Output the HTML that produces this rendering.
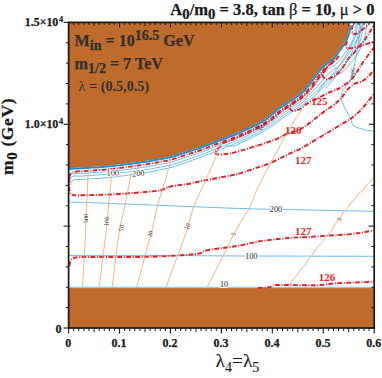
<!DOCTYPE html>
<html><head><meta charset="utf-8"><title>plot</title>
<style>
html,body{margin:0;padding:0;background:#fff;}
body{width:382px;height:378px;overflow:hidden;font-family:"Liberation Serif",serif;}
svg{display:block}
</style></head><body>
<svg width="382" height="378" viewBox="0 0 382 378">
<rect width="382" height="378" fill="#fff"/>
<path d="M68.7 168.3 L72.0 167.9 L74.6 167.8 L78.0 167.6 L82.0 167.4 L86.5 167.1 L89.3 166.9 L92.3 166.7 L95.5 166.5 L98.9 166.3 L102.4 166.0 L106.1 165.7 L110.0 165.3 L112.9 165.0 L116.0 164.6 L119.3 164.3 L122.7 163.9 L126.2 163.4 L129.6 163.0 L132.9 162.6 L136.1 162.2 L139.0 161.8 L141.7 161.4 L145.6 160.8 L149.1 160.3 L152.2 159.7 L155.0 159.2 L157.6 158.7 L160.0 158.3 L163.7 157.7 L166.5 157.2 L170.0 156.4 L172.8 155.6 L175.9 154.7 L179.3 153.6 L182.6 152.5 L185.9 151.5 L189.1 150.5 L192.2 149.5 L195.4 148.5 L198.5 147.5 L201.7 146.4 L204.9 145.2 L208.2 143.9 L211.5 142.6 L214.6 141.4 L217.6 140.2 L220.9 139.0 L223.8 137.9 L226.7 136.9 L230.0 135.6 L233.0 134.4 L236.1 133.1 L239.4 131.8 L242.7 130.4 L245.9 128.9 L249.2 127.4 L252.6 125.7 L255.9 124.1 L259.0 122.5 L261.7 121.0 L264.9 119.0 L267.3 117.3 L269.7 115.4 L272.4 113.2 L275.0 110.8 L277.6 108.6 L281.3 106.0 L285.0 103.6 L287.6 101.9 L290.2 100.2 L292.9 98.4 L295.6 96.6 L298.2 94.8 L300.9 92.6 L303.5 90.1 L306.2 87.2 L308.8 84.1 L310.8 81.5 L312.7 78.6 L314.7 75.7 L316.7 73.0 L319.4 69.8 L322.0 66.9 L324.7 64.3 L327.5 62.2 L330.3 60.4 L332.6 58.7 L334.7 56.3 L336.4 53.8 L338.9 50.5 L341.4 47.0 L343.6 43.6 L345.6 40.0 L347.3 36.2 L348.6 32.0 L349.1 28.6 L349.5 24.9 L349.7 22.4 L68.6 22.4 L68.6 168.3 Z" fill="#bf6b2c"/>
<rect x="68.6" y="288.1" width="305.6" height="39.9" fill="#bf6b2c"/>
<path d="M68.7 176.0 C69.0 175.8 69.7 175.0 70.5 174.6 C71.3 174.2 72.2 174.0 73.5 173.8 C74.8 173.6 76.8 173.7 78.3 173.6 C79.8 173.5 80.9 173.5 82.3 173.4 C83.7 173.3 85.6 173.2 86.9 173.1 C88.1 173.0 88.7 173.0 89.7 172.9 C90.7 172.8 91.7 172.8 92.7 172.7 C93.8 172.6 94.8 172.6 95.9 172.5 C97.0 172.4 98.2 172.3 99.3 172.3 C100.5 172.2 101.7 172.1 102.9 172.0 C104.1 171.9 105.4 171.8 106.7 171.7 C108.0 171.5 109.5 171.4 110.6 171.3 C111.7 171.2 112.5 171.1 113.5 171.0 C114.6 170.9 115.6 170.8 116.7 170.6 C117.8 170.5 118.9 170.4 120.0 170.3 C121.2 170.2 122.3 170.0 123.5 169.9 C124.6 169.8 125.8 169.6 126.9 169.5 C128.1 169.4 129.2 169.2 130.4 169.1 C131.5 168.9 132.6 168.8 133.7 168.7 C134.8 168.5 135.9 168.4 136.9 168.3 C137.9 168.1 138.9 168.0 139.9 167.9 C140.8 167.8 141.5 167.7 142.6 167.5 C143.7 167.4 145.3 167.1 146.6 166.9 C147.8 166.7 149.0 166.5 150.1 166.3 C151.2 166.1 152.2 165.9 153.2 165.7 C154.2 165.5 155.2 165.3 156.1 165.1 C157.0 164.9 157.8 164.8 158.6 164.6 C159.4 164.5 160.0 164.3 161.0 164.2 C162.0 164.0 163.7 163.7 164.8 163.5 C165.9 163.3 166.6 163.2 167.7 162.9 C168.8 162.7 170.3 162.3 171.4 162.0 C172.5 161.7 173.3 161.5 174.4 161.1 C175.4 160.8 176.5 160.5 177.6 160.1 C178.7 159.7 179.8 159.4 180.9 159.0 C182.1 158.6 183.2 158.2 184.3 157.8 C185.4 157.5 186.5 157.1 187.6 156.7 C188.6 156.4 189.6 156.0 190.7 155.7 C191.7 155.3 192.8 155.0 193.8 154.6 C194.9 154.3 196.0 153.9 197.0 153.6 C198.1 153.2 199.2 152.8 200.2 152.5 C201.3 152.1 202.4 151.7 203.5 151.3 C204.5 150.9 205.7 150.5 206.8 150.1 C207.9 149.7 209.0 149.2 210.1 148.8 C211.2 148.3 212.3 147.9 213.4 147.5 C214.5 147.0 215.5 146.6 216.5 146.2 C217.5 145.8 218.4 145.4 219.4 145.1 C220.5 144.7 221.6 144.2 222.7 143.9 C223.7 143.5 224.6 143.2 225.6 142.8 C226.6 142.5 227.5 142.1 228.6 141.7 C229.6 141.3 230.8 140.9 231.9 140.4 C232.9 140.0 233.9 139.6 234.9 139.2 C235.9 138.7 237.0 138.3 238.1 137.8 C239.1 137.4 240.2 136.9 241.3 136.4 C242.5 135.9 243.6 135.4 244.7 134.9 C245.8 134.4 246.8 133.9 247.9 133.4 C249.0 132.8 250.1 132.3 251.3 131.7 C252.4 131.2 253.6 130.6 254.7 130.0 C255.8 129.4 257.0 128.8 258.1 128.3 C259.2 127.7 260.3 127.1 261.3 126.5 C262.3 126.0 263.0 125.6 264.1 125.0 C265.1 124.3 266.5 123.5 267.5 122.9 C268.5 122.2 269.2 121.7 270.1 121.0 C271.0 120.4 271.8 119.7 272.7 119.0 C273.6 118.3 274.5 117.5 275.4 116.8 C276.3 116.0 277.2 115.2 278.0 114.5 C278.9 113.8 279.5 113.2 280.5 112.4 C281.5 111.7 282.9 110.7 284.1 109.9 C285.3 109.1 286.6 108.3 287.7 107.6 C288.7 106.9 289.4 106.5 290.2 105.9 C291.1 105.4 292.0 104.8 292.9 104.2 C293.8 103.6 294.7 103.0 295.6 102.4 C296.5 101.8 297.4 101.2 298.3 100.5 C299.3 99.9 300.2 99.2 301.2 98.5 C302.2 97.8 303.1 97.1 304.1 96.2 C305.1 95.4 306.1 94.5 307.1 93.6 C308.1 92.7 309.1 91.7 310.0 90.7 C311.0 89.6 312.1 88.4 313.0 87.4 C313.8 86.4 314.4 85.6 315.2 84.7 C315.9 83.7 316.6 82.7 317.3 81.8 C318.0 80.8 318.6 79.9 319.3 79.0 C320.0 78.2 320.5 77.5 321.2 76.6 C322.0 75.7 323.0 74.7 323.8 73.7 C324.7 72.8 325.5 72.0 326.3 71.2 C327.1 70.4 327.9 69.6 328.7 68.9 C329.5 68.3 330.4 67.7 331.3 67.1 C332.2 66.5 333.2 65.9 334.2 65.3 C335.1 64.7 336.0 64.1 336.9 63.3 C337.8 62.5 338.7 61.4 339.5 60.5 C340.2 59.6 340.7 58.7 341.5 57.7 C342.3 56.6 343.3 55.4 344.2 54.2 C345.1 53.1 346.0 51.8 346.8 50.6 C347.7 49.4 348.5 48.2 349.2 46.9 C350.0 45.6 350.8 44.2 351.5 42.8 C352.2 41.4 352.8 39.9 353.4 38.4 C354.0 36.9 354.5 35.1 354.9 33.6 C355.3 32.2 355.4 31.0 355.6 29.7 C355.7 28.4 355.8 26.8 355.9 25.7 C356.0 24.6 356.1 23.4 356.2 23.0" fill="none" stroke="#4db4e6" stroke-width="0.85"/>
<path d="M68.7 179.2 C69.0 179.0 69.8 178.4 70.3 178.0 C70.8 177.6 71.3 177.2 72.0 176.8 C72.7 176.5 73.4 176.0 74.5 175.9 C75.6 175.8 77.1 176.2 78.5 176.2 C79.8 176.2 81.0 176.0 82.5 176.0 C83.9 175.9 85.8 175.8 87.0 175.7 C88.3 175.6 88.9 175.6 89.9 175.5 C90.8 175.4 91.9 175.4 92.9 175.3 C93.9 175.2 95.0 175.2 96.1 175.1 C97.2 175.0 98.4 174.9 99.5 174.8 C100.7 174.8 101.9 174.7 103.1 174.6 C104.4 174.5 105.6 174.4 106.9 174.2 C108.2 174.1 109.7 174.0 110.9 173.9 C112.0 173.7 112.8 173.7 113.8 173.6 C114.8 173.5 115.9 173.4 117.0 173.2 C118.1 173.1 119.2 173.0 120.3 172.9 C121.5 172.8 122.6 172.6 123.8 172.5 C124.9 172.4 126.1 172.3 127.3 172.1 C128.4 172.0 129.6 171.9 130.7 171.7 C131.8 171.6 133.0 171.5 134.0 171.3 C135.1 171.2 136.2 171.1 137.2 170.9 C138.3 170.8 139.3 170.7 140.3 170.6 C141.2 170.4 141.9 170.4 143.0 170.2 C144.1 170.0 145.7 169.8 147.0 169.6 C148.2 169.4 149.4 169.2 150.5 169.0 C151.7 168.8 152.7 168.6 153.7 168.4 C154.7 168.2 155.7 168.0 156.6 167.8 C157.5 167.7 158.3 167.5 159.1 167.3 C159.9 167.2 160.5 167.1 161.5 166.9 C162.5 166.7 164.2 166.4 165.3 166.2 C166.5 166.0 167.2 165.9 168.3 165.7 C169.4 165.4 170.9 165.1 172.1 164.7 C173.2 164.4 174.1 164.1 175.1 163.8 C176.2 163.5 177.3 163.1 178.4 162.7 C179.5 162.3 180.6 161.9 181.8 161.5 C182.9 161.1 184.0 160.7 185.1 160.4 C186.2 160.0 187.3 159.6 188.3 159.2 C189.4 158.8 190.4 158.5 191.5 158.1 C192.5 157.8 193.6 157.4 194.6 157.0 C195.7 156.7 196.7 156.3 197.8 155.9 C198.9 155.5 199.9 155.2 201.0 154.8 C202.1 154.4 203.2 154.0 204.3 153.5 C205.4 153.1 206.5 152.7 207.6 152.3 C208.7 151.8 209.8 151.4 210.9 150.9 C212.1 150.5 213.2 150.0 214.2 149.6 C215.3 149.1 216.3 148.7 217.3 148.3 C218.3 147.8 219.2 147.5 220.2 147.1 C221.2 146.7 222.4 146.2 223.4 145.9 C224.4 145.5 225.4 145.1 226.3 144.8 C227.3 144.4 228.3 144.0 229.3 143.6 C230.3 143.2 231.6 142.7 232.6 142.3 C233.7 141.9 234.6 141.5 235.6 141.0 C236.7 140.6 237.7 140.1 238.8 139.6 C239.9 139.2 241.0 138.7 242.1 138.2 C243.2 137.7 244.3 137.2 245.4 136.6 C246.6 136.1 247.6 135.6 248.7 135.1 C249.8 134.5 250.9 134.0 252.1 133.4 C253.2 132.9 254.4 132.3 255.5 131.7 C256.7 131.1 257.8 130.5 258.9 129.9 C260.0 129.3 261.1 128.7 262.1 128.1 C263.1 127.6 263.9 127.1 265.0 126.5 C266.0 125.9 267.5 125.1 268.5 124.4 C269.6 123.7 270.3 123.2 271.2 122.5 C272.1 121.9 273.0 121.2 273.9 120.5 C274.8 119.8 275.8 119.0 276.7 118.2 C277.5 117.5 278.4 116.7 279.2 116.0 C280.1 115.3 280.7 114.8 281.7 114.0 C282.7 113.3 284.0 112.4 285.2 111.6 C286.4 110.8 287.8 109.9 288.8 109.3 C289.8 108.6 290.4 108.2 291.3 107.6 C292.2 107.0 293.1 106.4 294.0 105.9 C294.9 105.3 295.8 104.7 296.7 104.0 C297.6 103.4 298.5 102.8 299.5 102.2 C300.5 101.5 301.4 100.8 302.4 100.1 C303.4 99.4 304.4 98.6 305.5 97.8 C306.5 97.0 307.6 96.1 308.7 95.2 C309.8 94.3 310.8 93.3 311.9 92.3 C312.9 91.3 314.1 90.1 315.0 89.1 C316.0 88.1 316.6 87.3 317.4 86.4 C318.2 85.4 319.0 84.4 319.7 83.5 C320.4 82.6 321.1 81.7 321.8 80.9 C322.5 80.1 323.0 79.4 323.8 78.6 C324.6 77.8 325.6 76.9 326.4 76.0 C327.3 75.2 328.0 74.4 328.8 73.6 C329.6 72.9 330.2 72.2 331.0 71.6 C331.8 71.0 332.5 70.4 333.4 69.8 C334.3 69.2 335.4 68.7 336.4 68.0 C337.3 67.4 338.4 66.7 339.3 65.8 C340.3 65.0 341.3 63.8 342.1 62.8 C343.0 61.8 343.5 60.8 344.3 59.8 C345.1 58.7 346.1 57.5 347.0 56.3 C347.9 55.1 348.9 53.8 349.7 52.5 C350.6 51.3 351.4 50.0 352.3 48.6 C353.1 47.3 353.9 45.8 354.6 44.3 C355.4 42.8 356.1 41.3 356.7 39.6 C357.3 38.0 357.9 36.1 358.3 34.5 C358.7 32.9 358.8 31.7 359.0 30.3 C359.2 28.9 359.3 27.3 359.4 26.1 C359.5 24.9 359.6 23.8 359.7 23.3" fill="none" stroke="#4db4e6" stroke-width="0.85"/>
<path d="M68.7 185.4 C69.0 185.1 69.7 184.2 70.2 183.5 C70.8 182.8 71.3 181.7 72.0 181.0 C72.7 180.3 73.4 179.8 74.5 179.6 C75.6 179.4 77.3 179.6 78.6 179.6 C80.0 179.5 81.2 179.4 82.7 179.4 C84.1 179.3 86.0 179.2 87.2 179.1 C88.5 179.0 89.1 179.0 90.1 178.9 C91.1 178.8 92.1 178.8 93.1 178.7 C94.2 178.6 95.2 178.6 96.3 178.5 C97.5 178.4 98.6 178.3 99.8 178.2 C101.0 178.1 102.2 178.1 103.4 178.0 C104.7 177.9 105.9 177.7 107.2 177.6 C108.5 177.5 110.0 177.4 111.2 177.2 C112.3 177.1 113.1 177.0 114.2 176.9 C115.2 176.8 116.3 176.7 117.4 176.5 C118.5 176.4 119.6 176.3 120.7 176.1 C121.9 176.0 123.0 175.8 124.2 175.7 C125.3 175.5 126.5 175.4 127.6 175.2 C128.8 175.1 129.9 174.9 131.1 174.8 C132.2 174.6 133.3 174.5 134.4 174.3 C135.5 174.2 136.6 174.0 137.6 173.9 C138.7 173.7 139.7 173.6 140.7 173.5 C141.6 173.3 142.3 173.2 143.4 173.1 C144.5 172.9 146.1 172.6 147.4 172.4 C148.7 172.1 149.8 171.9 151.0 171.7 C152.1 171.5 153.2 171.3 154.2 171.0 C155.2 170.8 156.1 170.6 157.0 170.4 C157.9 170.3 158.7 170.1 159.6 169.9 C160.4 169.7 160.9 169.6 161.9 169.4 C163.0 169.2 164.7 168.9 165.8 168.7 C166.9 168.4 167.7 168.3 168.8 168.1 C170.0 167.8 171.5 167.4 172.6 167.1 C173.8 166.7 174.7 166.4 175.8 166.1 C176.8 165.7 178.0 165.4 179.1 165.0 C180.2 164.6 181.3 164.2 182.5 163.8 C183.6 163.4 184.7 163.0 185.8 162.6 C186.9 162.2 188.0 161.8 189.0 161.4 C190.1 161.0 191.1 160.7 192.1 160.3 C193.2 159.9 194.2 159.6 195.3 159.2 C196.3 158.8 197.4 158.4 198.5 158.1 C199.5 157.7 200.6 157.3 201.7 156.9 C202.8 156.5 203.9 156.0 205.0 155.6 C206.1 155.2 207.2 154.8 208.4 154.3 C209.5 153.9 210.6 153.4 211.7 153.0 C212.9 152.5 214.0 152.0 215.0 151.6 C216.1 151.2 217.1 150.7 218.1 150.3 C219.1 149.9 220.0 149.5 221.0 149.1 C222.0 148.7 223.2 148.3 224.2 147.9 C225.2 147.5 226.1 147.2 227.1 146.8 C228.1 146.5 229.0 146.1 230.1 145.7 C231.1 145.3 232.4 144.8 233.4 144.4 C234.5 143.9 235.4 143.5 236.4 143.0 C237.5 142.6 238.5 142.1 239.6 141.6 C240.7 141.1 241.8 140.6 242.9 140.1 C244.0 139.6 245.2 139.0 246.3 138.5 C247.4 138.0 248.5 137.5 249.6 136.9 C250.7 136.4 251.8 135.8 252.9 135.2 C254.0 134.6 255.2 134.0 256.4 133.4 C257.5 132.8 258.7 132.2 259.8 131.6 C260.9 131.0 262.0 130.3 263.0 129.8 C264.0 129.2 264.8 128.7 265.9 128.1 C267.0 127.4 268.5 126.6 269.5 125.9 C270.6 125.3 271.4 124.7 272.3 124.0 C273.2 123.4 274.1 122.7 275.1 122.0 C276.0 121.3 277.0 120.5 277.9 119.7 C278.8 119.0 279.6 118.2 280.5 117.5 C281.3 116.8 281.9 116.3 282.9 115.6 C283.9 114.9 285.2 114.0 286.4 113.2 C287.5 112.4 288.9 111.6 289.9 110.9 C290.9 110.3 291.5 109.8 292.4 109.3 C293.3 108.7 294.2 108.1 295.1 107.5 C296.0 106.9 296.9 106.3 297.8 105.7 C298.7 105.1 299.7 104.5 300.7 103.8 C301.6 103.1 302.6 102.4 303.7 101.7 C304.7 100.9 305.7 100.1 306.8 99.3 C307.9 98.5 309.1 97.6 310.3 96.7 C311.4 95.8 312.5 94.8 313.6 93.8 C314.7 92.8 316.0 91.6 316.9 90.6 C317.9 89.6 318.6 88.8 319.5 87.9 C320.3 86.9 321.1 85.9 321.8 85.0 C322.6 84.1 323.3 83.3 324.0 82.5 C324.7 81.7 325.2 81.2 326.0 80.4 C326.8 79.6 327.8 78.7 328.7 78.0 C329.5 77.2 330.2 76.5 331.0 75.8 C331.7 75.1 332.3 74.5 333.0 73.9 C333.8 73.4 334.5 72.9 335.4 72.4 C336.3 71.8 337.4 71.2 338.4 70.6 C339.4 69.9 340.6 69.2 341.6 68.3 C342.6 67.3 343.7 66.1 344.7 65.0 C345.6 63.9 346.2 62.9 347.0 61.8 C347.9 60.7 348.9 59.5 349.9 58.3 C350.8 57.0 351.7 55.8 352.6 54.5 C353.5 53.2 354.4 51.8 355.3 50.4 C356.1 49.0 357.0 47.4 357.8 45.8 C358.6 44.2 359.3 42.6 360.0 40.8 C360.6 39.1 361.3 37.0 361.7 35.4 C362.1 33.7 362.2 32.4 362.4 30.9 C362.7 29.4 362.8 27.7 362.9 26.5 C363.0 25.3 363.1 24.1 363.1 23.6" fill="none" stroke="#4db4e6" stroke-width="0.85"/>
<path d="M226.0 146.0 C227.4 146.0 232.3 146.2 234.2 146.0 C236.1 145.8 236.1 145.1 237.1 144.7 C238.2 144.2 239.2 143.7 240.3 143.2 C241.4 142.7 242.5 142.2 243.6 141.7 C244.7 141.2 245.9 140.6 247.0 140.1 C248.1 139.6 249.2 139.0 250.3 138.5 C251.4 137.9 252.5 137.3 253.6 136.7 C254.8 136.1 256.0 135.5 257.1 134.9 C258.2 134.3 259.4 133.6 260.5 133.0 C261.6 132.4 262.7 131.8 263.8 131.2 C264.8 130.6 265.6 130.1 266.7 129.4 C267.8 128.8 269.3 128.0 270.4 127.3 C271.5 126.6 272.3 126.0 273.3 125.4 C274.2 124.7 275.2 124.0 276.1 123.3 C277.1 122.6 278.1 121.8 279.0 121.0 C279.9 120.3 280.8 119.6 281.6 118.9 C282.4 118.2 283.0 117.7 284.0 117.0 C285.0 116.3 286.3 115.4 287.4 114.7 C288.6 113.9 289.9 113.1 290.9 112.5 C291.9 111.8 292.6 111.4 293.4 110.8 C294.3 110.3 295.2 109.7 296.2 109.1 C297.1 108.5 297.9 107.9 298.9 107.3 C299.8 106.7 300.8 106.1 301.8 105.4 C302.8 104.7 303.8 104.0 304.9 103.2 C306.0 102.5 307.0 101.7 308.2 100.8 C309.3 100.0 310.6 99.2 311.8 98.3 C313.0 97.3 314.2 96.4 315.3 95.3 C316.5 94.3 317.8 93.1 318.8 92.1 C319.9 91.1 320.6 90.3 321.5 89.4 C322.3 88.4 323.2 87.4 324.0 86.6 C324.8 85.7 325.5 84.9 326.2 84.1 C326.9 83.4 327.4 82.9 328.2 82.2 C329.0 81.5 330.1 80.6 330.9 79.9 C331.7 79.2 332.4 78.5 333.1 77.9 C333.8 77.3 334.4 76.8 335.1 76.3 C335.8 75.8 336.4 75.4 337.3 74.9 C338.2 74.3 339.3 73.8 340.4 73.1 C341.5 72.4 342.7 71.7 343.9 70.7 C345.0 69.7 346.2 68.4 347.2 67.2 C348.2 66.1 348.8 65.0 349.8 63.9 C350.7 62.7 351.8 61.5 352.7 60.2 C353.7 59.0 354.6 57.8 355.5 56.4 C356.5 55.1 357.4 53.7 358.3 52.2 C359.2 50.7 360.1 49.0 360.9 47.4 C361.8 45.7 362.6 43.9 363.2 42.0 C363.9 40.2 364.6 38.0 365.1 36.2 C365.5 34.5 365.7 33.1 365.9 31.5 C366.1 29.9 366.3 28.1 366.4 26.9 C366.5 25.6 366.6 24.4 366.6 23.9" fill="none" stroke="#4db4e6" stroke-width="0.85"/>
<path d="M318.0 92.0 C319.0 90.7 321.7 86.8 324.0 84.0 C326.3 81.2 329.0 78.7 332.0 75.0 C335.0 71.3 339.0 66.5 342.0 62.0 C345.0 57.5 347.8 52.3 350.0 48.0 C352.2 43.7 354.2 40.2 355.5 36.0 C356.8 31.8 357.2 25.2 357.5 23.0" fill="none" stroke="#4db4e6" stroke-width="0.85"/>
<path d="M326.0 88.0 C327.2 86.7 330.5 83.0 333.0 80.0 C335.5 77.0 338.3 73.7 341.0 70.0 C343.7 66.3 346.7 62.0 349.0 58.0 C351.3 54.0 353.2 50.0 355.0 46.0 C356.8 42.0 358.5 37.8 359.5 34.0 C360.5 30.2 360.6 24.8 360.8 23.0" fill="none" stroke="#4db4e6" stroke-width="0.85"/>
<path d="M68.7 199.5 C69.0 199.8 69.6 200.6 70.2 201.0 C70.8 201.4 69.2 201.7 72.5 202.0 C75.8 202.3 83.1 202.3 90.0 202.6 C96.9 202.9 108.0 203.4 114.0 203.6 C120.0 203.8 118.3 203.7 126.0 204.0 C133.7 204.3 147.7 204.9 160.0 205.4 C172.3 205.9 185.0 206.4 200.0 207.0 C215.0 207.6 233.3 208.3 250.0 208.8 C266.7 209.3 279.3 209.4 300.0 209.8 C320.7 210.2 361.7 211.1 374.0 211.3" fill="none" stroke="#4db4e6" stroke-width="0.85"/>
<path d="M68.7 255.4 C83.9 255.4 129.8 255.4 160.0 255.5 C190.2 255.6 214.3 255.9 250.0 256.0 C285.7 256.1 353.3 256.2 374.0 256.3" fill="none" stroke="#4db4e6" stroke-width="0.85"/>
<path d="M68.7 287.3 L374.0 287.3" fill="none" stroke="#4db4e6" stroke-width="0.85"/>
<path d="M363.0 23.0 C362.5 24.8 360.8 30.2 360.0 34.0 C359.2 37.8 358.7 42.0 358.0 46.0 C357.3 50.0 356.8 54.0 356.0 58.0 C355.2 62.0 354.1 66.2 353.1 70.0 C352.1 73.8 351.5 77.5 349.9 80.8 C348.3 84.0 344.8 87.0 343.4 89.5 C341.9 92.0 341.4 93.8 341.2 96.0 C341.0 98.2 341.4 100.0 342.3 102.5 C343.2 105.0 345.2 108.5 346.6 111.2 C348.1 113.9 349.9 116.5 351.0 118.8 C352.1 121.1 351.3 123.6 353.1 125.3 C354.9 127.0 358.3 128.0 361.8 129.0 C365.3 130.0 372.0 131.0 374.0 131.4" fill="none" stroke="#4db4e6" stroke-width="0.85"/>
<path d="M68.8 169.2 L72.1 168.8 L74.7 168.6 L78.0 168.5 L82.0 168.3 L86.6 168.0 L89.4 167.8 L92.4 167.6 L95.6 167.4 L99.0 167.2 L102.5 166.9 L106.2 166.6 L110.1 166.2 L113.0 165.9 L116.1 165.5 L119.4 165.2 L122.8 164.7 L126.3 164.3 L129.7 163.9 L133.0 163.5 L136.2 163.1 L139.2 162.7 L141.8 162.3 L145.8 161.7 L149.2 161.2 L152.4 160.6 L155.2 160.1 L157.7 159.6 L160.2 159.2 L163.9 158.6 L166.7 158.1 L170.2 157.3 L173.0 156.5 L176.2 155.5 L179.5 154.5 L182.9 153.4 L186.2 152.4 L189.3 151.4 L192.5 150.4 L195.7 149.4 L198.8 148.3 L202.0 147.2 L205.2 146.0 L208.5 144.8 L211.8 143.5 L215.0 142.2 L217.9 141.0 L221.2 139.8 L224.1 138.8 L227.1 137.7 L230.3 136.4 L233.3 135.2 L236.5 134.0 L239.7 132.6 L243.0 131.2 L246.3 129.7 L249.6 128.2 L253.0 126.5 L256.4 124.9 L259.5 123.2 L262.2 121.8 L265.4 119.8 L267.9 118.0 L270.3 116.1 L272.9 113.8 L275.6 111.5 L278.1 109.3 L281.8 106.7 L285.5 104.3 L288.1 102.7 L290.7 100.9 L293.4 99.1 L296.1 97.3 L298.8 95.5 L301.5 93.3 L304.2 90.7 L306.8 87.8 L309.5 84.7 L311.5 82.0 L313.5 79.1 L315.4 76.2 L317.4 73.6 L320.0 70.4 L322.7 67.5 L325.3 65.0 L328.0 62.9 L330.8 61.1 L333.2 59.4 L335.4 56.9 L337.1 54.3 L339.6 51.0 L342.1 47.5 L344.4 44.0 L346.4 40.4 L348.1 36.5 L349.5 32.2 L350.0 28.7 L350.4 25.1" fill="none" stroke="#1f8fd1" stroke-width="2.0"/>
<path d="M69.4 177.5 C69.5 177.0 69.5 175.5 70.0 174.6 C70.5 173.7 71.2 172.8 72.6 172.3 C74.0 171.8 76.6 171.6 78.2 171.4 C79.8 171.3 80.8 171.3 82.2 171.2 C83.6 171.1 85.5 171.0 86.7 170.9 C88.0 170.8 88.6 170.8 89.6 170.7 C90.5 170.7 91.5 170.6 92.6 170.5 C93.6 170.5 94.7 170.4 95.8 170.3 C96.9 170.2 98.0 170.1 99.2 170.0 C100.3 170.0 101.5 169.9 102.7 169.8 C104.0 169.7 105.2 169.5 106.5 169.4 C107.7 169.3 109.2 169.1 110.4 169.0 C111.5 168.9 112.3 168.8 113.3 168.7 C114.3 168.6 115.4 168.5 116.5 168.3 C117.5 168.2 118.6 168.1 119.8 167.9 C120.9 167.8 122.0 167.7 123.2 167.5 C124.3 167.4 125.5 167.2 126.6 167.1 C127.8 166.9 128.9 166.8 130.1 166.6 C131.2 166.5 132.3 166.4 133.4 166.2 C134.5 166.1 135.5 165.9 136.6 165.8 C137.6 165.6 138.6 165.5 139.5 165.4 C140.5 165.2 141.1 165.2 142.2 165.0 C143.3 164.8 144.9 164.6 146.2 164.4 C147.4 164.2 148.6 164.0 149.7 163.8 C150.8 163.6 151.8 163.4 152.8 163.3 C153.8 163.1 154.7 162.9 155.6 162.7 C156.5 162.5 157.4 162.4 158.2 162.2 C159.0 162.1 159.6 162.0 160.6 161.8 C161.6 161.6 163.3 161.3 164.4 161.1 C165.5 160.9 166.2 160.8 167.2 160.6 C168.3 160.4 169.7 160.0 170.8 159.7 C171.9 159.5 172.7 159.2 173.7 158.9 C174.7 158.6 175.8 158.3 176.9 157.9 C178.0 157.6 179.2 157.2 180.3 156.8 C181.4 156.5 182.5 156.1 183.6 155.7 C184.7 155.4 185.8 155.0 186.9 154.7 C188.0 154.3 189.0 154.0 190.1 153.6 C191.1 153.3 192.2 153.0 193.2 152.6 C194.3 152.3 195.3 152.0 196.4 151.6 C197.4 151.3 198.5 150.9 199.6 150.5 C200.6 150.2 201.7 149.8 202.8 149.4 C203.9 149.0 205.0 148.6 206.1 148.2 C207.2 147.8 208.3 147.3 209.4 146.9 C210.5 146.5 211.6 146.0 212.7 145.6 C213.7 145.2 214.8 144.7 215.8 144.3 C216.8 143.9 217.7 143.6 218.7 143.2 C219.8 142.8 220.9 142.4 222.0 142.0 C223.0 141.6 223.9 141.3 224.9 140.9 C225.9 140.6 226.8 140.2 227.9 139.9 C228.9 139.5 230.1 139.0 231.2 138.6 C232.2 138.2 233.1 137.8 234.2 137.4 C235.2 137.0 236.3 136.5 237.3 136.1 C238.4 135.6 239.5 135.2 240.6 134.7 C241.7 134.2 242.9 133.8 244.0 133.3 C245.1 132.8 246.1 132.3 247.2 131.8 C248.3 131.3 249.4 130.8 250.6 130.3 C251.7 129.7 252.9 129.1 254.0 128.6 C255.2 128.0 256.3 127.5 257.4 126.9 C258.5 126.4 259.6 125.8 260.6 125.3 C261.6 124.7 262.3 124.3 263.3 123.7 C264.4 123.2 265.7 122.3 266.7 121.7 C267.7 121.0 268.4 120.5 269.2 119.8 C270.1 119.2 270.9 118.6 271.7 117.9 C272.6 117.2 273.5 116.4 274.4 115.6 C275.3 114.8 276.2 114.0 277.0 113.3 C277.9 112.5 278.5 111.9 279.5 111.2 C280.6 110.4 281.9 109.4 283.1 108.6 C284.4 107.8 285.7 106.9 286.8 106.3 C287.8 105.6 288.5 105.1 289.3 104.6 C290.2 104.0 291.1 103.4 292.0 102.9 C292.9 102.3 293.8 101.7 294.7 101.1 C295.6 100.5 296.5 99.8 297.4 99.2 C298.3 98.6 299.3 98.0 300.2 97.3 C301.1 96.6 302.1 95.8 303.0 95.0 C304.0 94.2 304.9 93.3 305.8 92.3 C306.7 91.4 307.7 90.4 308.6 89.3 C309.5 88.3 310.5 87.1 311.3 86.1 C312.1 85.1 312.7 84.3 313.3 83.4 C314.0 82.4 314.7 81.4 315.4 80.4 C316.0 79.5 316.7 78.5 317.3 77.6 C317.9 76.7 318.5 75.9 319.2 75.0 C319.9 74.1 320.9 72.9 321.8 71.9 C322.6 70.9 323.5 70.0 324.3 69.1 C325.1 68.3 325.9 67.5 326.8 66.7 C327.6 66.0 328.5 65.3 329.5 64.7 C330.4 64.1 331.4 63.5 332.3 62.9 C333.2 62.3 334.0 61.8 334.8 61.0 C335.6 60.3 336.4 59.3 337.1 58.4 C337.8 57.5 338.6 56.2 339.0 55.7" fill="none" stroke="#ed1c24" stroke-width="1.9" stroke-dasharray="4.8 1.7 1.0 1.4"/>
<path d="M222.5 143.3 C223.0 143.1 224.4 142.6 225.4 142.2 C226.4 141.9 227.3 141.6 228.4 141.2 C229.4 140.8 230.6 140.3 231.7 139.9 C232.7 139.5 233.6 139.1 234.7 138.7 C235.7 138.3 236.8 137.8 237.9 137.4 C239.0 136.9 240.1 136.5 241.2 136.0 C242.3 135.5 243.4 135.0 244.5 134.6 C245.6 134.1 246.7 133.6 247.8 133.1 C248.9 132.6 250.0 132.1 251.2 131.5 C252.3 131.0 253.5 130.4 254.6 129.8 C255.8 129.3 256.9 128.7 258.0 128.2 C259.1 127.6 260.2 127.0 261.2 126.5 C262.2 126.0 263.0 125.6 264.1 125.0 C265.1 124.3 266.5 123.5 267.5 122.8 C268.5 122.2 269.2 121.6 270.1 121.0 C270.9 120.3 271.7 119.7 272.6 119.0 C273.5 118.2 274.4 117.4 275.3 116.7 C276.2 115.9 277.1 115.1 277.9 114.4 C278.7 113.6 279.4 113.0 280.4 112.3 C281.4 111.5 282.8 110.6 284.0 109.8 C285.1 109.0 286.5 108.1 287.5 107.4 C288.6 106.8 289.2 106.3 290.1 105.8 C291.0 105.2 291.9 104.6 292.8 104.0 C293.7 103.4 294.6 102.8 295.5 102.2 C296.4 101.6 297.3 101.0 298.2 100.4 C299.2 99.7 300.1 99.1 301.1 98.4 C302.0 97.7 303.0 96.9 303.9 96.0 C304.9 95.2 305.9 94.3 306.8 93.3 C307.8 92.3 308.7 91.3 309.6 90.3 C310.5 89.2 311.6 88.0 312.4 87.0 C313.2 86.0 313.8 85.1 314.5 84.2 C315.2 83.2 315.8 82.2 316.5 81.2 C317.1 80.3 317.8 79.3 318.4 78.4 C319.1 77.5 319.6 76.8 320.3 75.9 C321.0 74.9 322.0 73.8 322.8 72.8 C323.7 71.9 324.5 71.0 325.3 70.1 C326.1 69.3 327.3 68.2 327.7 67.8" fill="none" stroke="#ed1c24" stroke-width="1.9" stroke-dasharray="4.8 1.7 1.0 1.4"/>
<path d="M69.4 177.5 C69.4 178.8 69.3 182.8 69.3 185.0 C69.3 187.2 69.2 189.4 69.6 191.0 C70.0 192.6 70.3 193.7 71.6 194.4 C72.9 195.1 70.8 195.3 77.2 195.3 C83.6 195.3 99.2 195.0 110.0 194.5 C120.8 194.0 133.2 193.0 141.7 192.3 C150.2 191.6 156.1 191.1 160.8 190.2 C165.5 189.2 165.2 187.7 170.0 186.6 C174.8 185.5 184.2 184.7 189.7 183.7 C195.2 182.7 196.2 182.2 202.9 180.8 C209.6 179.5 223.8 176.8 230.0 175.6 C236.2 174.3 235.2 174.7 240.0 173.3 C244.8 171.9 253.4 168.9 258.5 167.2 C263.6 165.5 266.0 165.0 270.6 163.0 C275.2 161.0 281.5 157.5 286.3 155.2 C291.1 152.9 295.2 151.4 299.3 149.3 C303.4 147.2 307.1 144.9 310.8 142.7 C314.5 140.5 318.1 138.4 321.7 136.2 C325.3 134.0 328.9 131.9 332.5 129.7 C336.1 127.5 340.1 125.1 343.4 123.1 C346.7 121.1 349.2 119.9 352.1 117.7 C355.0 115.5 358.2 112.6 360.7 110.1 C363.2 107.6 365.0 105.2 367.2 102.5 C369.4 99.8 372.9 95.2 374.0 93.7" fill="none" stroke="#ed1c24" stroke-width="1.9" stroke-dasharray="4.8 1.7 1.0 1.4"/>
<path d="M220.8 146.0 C220.2 146.6 217.9 148.4 217.0 149.5 C216.1 150.6 215.1 151.8 215.2 152.6 C215.3 153.4 215.9 154.2 217.5 154.4 C219.1 154.7 222.7 154.3 224.8 154.1 C226.9 153.9 227.5 153.9 230.0 153.4 C232.5 152.9 235.2 152.2 240.0 150.8 C244.8 149.5 252.3 147.3 258.5 145.3 C264.7 143.3 272.4 140.7 277.0 138.8 C281.6 137.0 282.5 135.8 286.3 134.2 C290.1 132.6 295.9 131.3 300.0 129.3 C304.1 127.3 307.2 124.8 310.8 122.1 C314.4 119.4 318.1 116.1 321.7 113.4 C325.3 110.7 329.2 108.3 332.5 105.8 C335.8 103.3 338.8 100.7 341.2 98.2 C343.6 95.7 344.4 92.9 346.6 90.6 C348.8 88.2 351.5 85.7 354.2 84.1 C356.9 82.5 360.4 82.2 362.9 80.8 C365.4 79.3 367.5 77.2 369.4 75.4 C371.2 73.6 373.2 70.7 374.0 69.8" fill="none" stroke="#ed1c24" stroke-width="1.9" stroke-dasharray="4.8 1.7 1.0 1.4"/>
<path d="M295.5 101.0 C294.8 101.6 292.4 103.3 291.5 104.5 C290.6 105.7 289.8 107.2 290.0 108.3 C290.2 109.3 291.3 110.7 293.0 110.8 C294.7 110.9 297.4 110.4 300.0 109.0 C302.6 107.6 305.5 104.4 308.7 102.5 C311.9 100.6 315.9 99.1 319.1 97.5 C322.4 95.9 324.9 94.3 328.2 92.8 C331.5 91.3 335.4 90.4 339.0 88.4 C342.6 86.4 347.2 83.2 349.9 80.8 C352.6 78.4 353.6 76.6 355.3 74.3 C357.0 72.0 358.2 69.6 360.0 66.9 C361.8 64.2 363.7 61.2 366.0 58.0 C368.3 54.8 372.7 49.2 374.0 47.5" fill="none" stroke="#ed1c24" stroke-width="1.9" stroke-dasharray="4.8 1.7 1.0 1.4"/>
<path d="M334.0 61.0 C333.2 61.7 330.9 63.7 329.5 65.0 C328.1 66.3 326.8 67.8 325.8 69.0 C324.8 70.2 323.9 71.4 323.4 72.5 C322.9 73.6 322.6 74.8 322.8 75.8 C323.0 76.8 323.7 78.2 324.6 78.8 C325.5 79.3 326.5 79.7 328.2 79.1 C329.9 78.5 332.5 76.9 334.7 75.4 C336.9 73.9 338.9 72.8 341.2 70.0 C343.4 67.2 346.0 61.6 348.2 58.7 C350.4 55.8 352.2 54.9 354.1 52.8 C356.0 50.7 357.6 48.2 359.3 46.1 C361.0 44.0 362.7 42.6 364.5 40.2 C366.3 37.8 368.4 34.0 370.0 31.5 C371.6 29.1 373.3 26.5 374.0 25.5" fill="none" stroke="#ed1c24" stroke-width="1.9" stroke-dasharray="4.8 1.7 1.0 1.4"/>
<path d="M347.4 41.5 C347.2 41.9 346.3 43.2 346.0 44.0 C345.7 44.8 345.5 45.5 345.6 46.2 C345.7 46.9 346.1 47.6 346.8 48.0 C347.5 48.4 347.9 48.6 349.7 48.4 C351.5 48.2 355.4 47.5 357.9 46.9 C360.4 46.3 361.8 45.6 364.5 44.7 C367.2 43.8 372.4 42.0 374.0 41.5" fill="none" stroke="#ed1c24" stroke-width="1.9" stroke-dasharray="4.8 1.7 1.0 1.4"/>
<path d="M352.8 25.0 C352.6 25.8 351.9 28.1 351.9 29.5 C351.9 30.9 352.4 32.6 353.0 33.4 C353.6 34.1 354.8 34.1 355.6 34.0 C356.4 33.9 356.7 33.6 357.9 32.8 C359.1 32.0 361.2 30.5 363.0 29.1 C364.8 27.7 367.6 25.3 368.5 24.5" fill="none" stroke="#ed1c24" stroke-width="1.9" stroke-dasharray="4.8 1.7 1.0 1.4"/>
<path d="M69.3 266.1 C69.5 265.3 69.7 262.8 70.3 261.5 C70.9 260.2 71.2 259.3 72.8 258.6 C74.4 257.9 73.8 257.4 80.0 257.1 C86.2 256.8 98.3 257.1 110.0 257.0 C121.7 256.9 137.5 257.1 150.0 256.8 C162.5 256.5 176.6 255.6 185.0 255.0 C193.4 254.4 196.7 254.0 200.3 253.2 C204.0 252.4 202.1 251.3 206.9 250.3 C211.8 249.3 223.5 248.0 229.4 247.1 C235.3 246.2 237.7 245.9 242.6 245.0 C247.5 244.1 251.0 242.7 258.6 241.5 C266.2 240.3 280.0 238.8 288.3 238.0 C296.6 237.2 301.1 237.4 308.5 237.0 C315.9 236.6 326.4 235.7 333.0 235.3 C339.6 234.9 343.3 234.9 348.1 234.4 C352.9 233.9 357.7 233.3 362.0 232.6 C366.3 231.9 372.0 230.6 374.0 230.2" fill="none" stroke="#ed1c24" stroke-width="1.9" stroke-dasharray="4.8 1.7 1.0 1.4"/>
<path d="M258.0 288.0 C259.3 288.0 264.0 287.9 266.0 287.8 C268.0 287.7 269.0 287.5 270.0 287.2 C271.0 286.9 271.2 286.1 272.0 285.8 C272.8 285.5 272.8 285.2 274.5 285.1 C276.2 285.0 276.3 285.0 282.0 285.0 C287.7 285.0 302.0 285.2 308.5 285.2 C315.0 285.2 316.6 285.3 321.0 285.0 C325.4 284.7 329.2 283.7 334.9 283.3 C340.6 282.9 348.5 282.8 355.0 282.5 C361.5 282.2 370.8 281.9 374.0 281.8" fill="none" stroke="#ed1c24" stroke-width="1.9" stroke-dasharray="4.8 1.7 1.0 1.4"/>
<path d="M88.5 169.0 C88.3 172.5 87.7 184.0 87.4 190.0 C87.1 196.0 86.9 198.3 86.6 205.0 C86.3 211.7 86.1 220.8 85.7 230.0 C85.3 239.2 84.5 250.4 84.0 260.0 C83.5 269.6 82.8 282.8 82.5 287.3" fill="none" stroke="#eeac78" stroke-width="0.9"/>
<path d="M112.3 168.0 C112.0 170.8 111.2 178.8 110.6 185.0 C110.0 191.2 109.3 197.5 108.6 205.0 C107.9 212.5 107.3 220.8 106.3 230.0 C105.3 239.2 103.7 250.4 102.5 260.0 C101.3 269.6 99.8 282.8 99.2 287.3" fill="none" stroke="#eeac78" stroke-width="0.9"/>
<path d="M132.4 166.0 C131.9 168.7 130.7 175.5 129.5 182.0 C128.3 188.5 126.7 197.0 125.0 205.0 C123.3 213.0 121.1 220.8 119.5 230.0 C117.9 239.2 116.7 250.4 115.5 260.0 C114.3 269.6 112.7 282.8 112.1 287.3" fill="none" stroke="#eeac78" stroke-width="0.9"/>
<path d="M170.6 160.5 C169.9 163.1 167.9 170.9 166.5 176.0 C165.1 181.1 163.4 186.0 161.9 190.8 C160.4 195.6 159.3 198.1 157.6 205.0 C155.9 211.9 153.8 222.8 151.5 232.0 C149.2 241.2 146.5 250.8 144.0 260.0 C141.5 269.2 137.9 282.8 136.7 287.3" fill="none" stroke="#eeac78" stroke-width="0.9"/>
<path d="M221.3 141.5 C220.4 144.0 218.6 150.1 216.0 156.5 C213.4 162.9 209.4 171.6 205.7 180.0 C202.0 188.4 196.8 198.4 193.7 206.7 C190.6 215.0 189.9 221.1 187.0 230.0 C184.1 238.9 179.5 250.4 176.0 260.0 C172.5 269.6 167.6 282.8 165.9 287.3" fill="none" stroke="#eeac78" stroke-width="0.9"/>
<path d="M311.2 86.5 C309.5 90.4 303.7 104.4 300.9 110.0 C298.1 115.6 297.0 115.9 294.6 120.0 C292.2 124.1 290.3 127.2 286.3 134.4 C282.3 141.6 275.5 153.7 270.6 163.0 C265.7 172.3 260.1 182.7 256.7 190.0 C253.3 197.3 253.4 200.0 250.0 206.7 C246.6 213.4 240.8 221.1 236.0 230.0 C231.2 238.9 225.8 250.4 221.0 260.0 C216.2 269.6 209.2 282.8 206.9 287.3" fill="none" stroke="#eeac78" stroke-width="0.9"/>
<path d="M374.0 176.0 C373.4 176.9 371.8 180.0 370.5 181.5 C369.2 183.0 367.8 183.5 366.5 185.0 C365.2 186.5 364.3 189.1 363.0 190.5 C361.7 191.9 359.8 192.1 358.5 193.5 C357.2 194.9 356.2 197.5 355.0 199.0 C353.8 200.5 352.2 201.1 351.0 202.5 C349.8 203.9 349.1 206.0 347.8 207.6 C346.6 209.2 344.9 210.1 343.5 212.0 C342.1 213.9 341.0 216.8 339.6 218.8 C338.2 220.8 336.3 222.1 335.0 224.0 C333.7 225.9 333.1 228.1 331.8 230.0 C330.5 231.9 328.5 233.8 327.0 235.7 C325.5 237.6 324.5 239.7 323.0 241.5 C321.5 243.3 319.6 244.6 318.0 246.5 C316.4 248.4 315.2 250.9 313.7 252.9 C312.2 254.9 310.4 256.6 309.0 258.5 C307.6 260.4 306.8 262.8 305.5 264.5 C304.2 266.2 302.3 267.4 301.0 269.0 C299.7 270.6 299.2 272.2 297.9 274.0 C296.6 275.8 294.6 277.9 293.0 280.0 C291.4 282.1 289.3 285.4 288.6 286.5" fill="none" stroke="#eeac78" stroke-width="0.9"/>
<g stroke="#1a1a1a"><line x1="68.60" y1="328.0" x2="68.60" y2="333.6" stroke-width="1.1"/><line x1="68.60" y1="22.4" x2="68.60" y2="27.4" stroke-width="1.1"/><line x1="73.69" y1="328.0" x2="73.69" y2="331.0" stroke-width="1.0"/><line x1="73.69" y1="22.4" x2="73.69" y2="25.0" stroke-width="1.0"/><line x1="78.79" y1="328.0" x2="78.79" y2="331.0" stroke-width="1.0"/><line x1="78.79" y1="22.4" x2="78.79" y2="25.0" stroke-width="1.0"/><line x1="83.88" y1="328.0" x2="83.88" y2="331.0" stroke-width="1.0"/><line x1="83.88" y1="22.4" x2="83.88" y2="25.0" stroke-width="1.0"/><line x1="88.97" y1="328.0" x2="88.97" y2="331.0" stroke-width="1.0"/><line x1="88.97" y1="22.4" x2="88.97" y2="25.0" stroke-width="1.0"/><line x1="94.07" y1="328.0" x2="94.07" y2="332.2" stroke-width="1.0"/><line x1="94.07" y1="22.4" x2="94.07" y2="26.0" stroke-width="1.0"/><line x1="99.16" y1="328.0" x2="99.16" y2="331.0" stroke-width="1.0"/><line x1="99.16" y1="22.4" x2="99.16" y2="25.0" stroke-width="1.0"/><line x1="104.25" y1="328.0" x2="104.25" y2="331.0" stroke-width="1.0"/><line x1="104.25" y1="22.4" x2="104.25" y2="25.0" stroke-width="1.0"/><line x1="109.35" y1="328.0" x2="109.35" y2="331.0" stroke-width="1.0"/><line x1="109.35" y1="22.4" x2="109.35" y2="25.0" stroke-width="1.0"/><line x1="114.44" y1="328.0" x2="114.44" y2="331.0" stroke-width="1.0"/><line x1="114.44" y1="22.4" x2="114.44" y2="25.0" stroke-width="1.0"/><line x1="119.53" y1="328.0" x2="119.53" y2="333.6" stroke-width="1.1"/><line x1="119.53" y1="22.4" x2="119.53" y2="27.4" stroke-width="1.1"/><line x1="124.63" y1="328.0" x2="124.63" y2="331.0" stroke-width="1.0"/><line x1="124.63" y1="22.4" x2="124.63" y2="25.0" stroke-width="1.0"/><line x1="129.72" y1="328.0" x2="129.72" y2="331.0" stroke-width="1.0"/><line x1="129.72" y1="22.4" x2="129.72" y2="25.0" stroke-width="1.0"/><line x1="134.81" y1="328.0" x2="134.81" y2="331.0" stroke-width="1.0"/><line x1="134.81" y1="22.4" x2="134.81" y2="25.0" stroke-width="1.0"/><line x1="139.91" y1="328.0" x2="139.91" y2="331.0" stroke-width="1.0"/><line x1="139.91" y1="22.4" x2="139.91" y2="25.0" stroke-width="1.0"/><line x1="145.00" y1="328.0" x2="145.00" y2="332.2" stroke-width="1.0"/><line x1="145.00" y1="22.4" x2="145.00" y2="26.0" stroke-width="1.0"/><line x1="150.09" y1="328.0" x2="150.09" y2="331.0" stroke-width="1.0"/><line x1="150.09" y1="22.4" x2="150.09" y2="25.0" stroke-width="1.0"/><line x1="155.19" y1="328.0" x2="155.19" y2="331.0" stroke-width="1.0"/><line x1="155.19" y1="22.4" x2="155.19" y2="25.0" stroke-width="1.0"/><line x1="160.28" y1="328.0" x2="160.28" y2="331.0" stroke-width="1.0"/><line x1="160.28" y1="22.4" x2="160.28" y2="25.0" stroke-width="1.0"/><line x1="165.37" y1="328.0" x2="165.37" y2="331.0" stroke-width="1.0"/><line x1="165.37" y1="22.4" x2="165.37" y2="25.0" stroke-width="1.0"/><line x1="170.47" y1="328.0" x2="170.47" y2="333.6" stroke-width="1.1"/><line x1="170.47" y1="22.4" x2="170.47" y2="27.4" stroke-width="1.1"/><line x1="175.56" y1="328.0" x2="175.56" y2="331.0" stroke-width="1.0"/><line x1="175.56" y1="22.4" x2="175.56" y2="25.0" stroke-width="1.0"/><line x1="180.65" y1="328.0" x2="180.65" y2="331.0" stroke-width="1.0"/><line x1="180.65" y1="22.4" x2="180.65" y2="25.0" stroke-width="1.0"/><line x1="185.75" y1="328.0" x2="185.75" y2="331.0" stroke-width="1.0"/><line x1="185.75" y1="22.4" x2="185.75" y2="25.0" stroke-width="1.0"/><line x1="190.84" y1="328.0" x2="190.84" y2="331.0" stroke-width="1.0"/><line x1="190.84" y1="22.4" x2="190.84" y2="25.0" stroke-width="1.0"/><line x1="195.93" y1="328.0" x2="195.93" y2="332.2" stroke-width="1.0"/><line x1="195.93" y1="22.4" x2="195.93" y2="26.0" stroke-width="1.0"/><line x1="201.03" y1="328.0" x2="201.03" y2="331.0" stroke-width="1.0"/><line x1="201.03" y1="22.4" x2="201.03" y2="25.0" stroke-width="1.0"/><line x1="206.12" y1="328.0" x2="206.12" y2="331.0" stroke-width="1.0"/><line x1="206.12" y1="22.4" x2="206.12" y2="25.0" stroke-width="1.0"/><line x1="211.21" y1="328.0" x2="211.21" y2="331.0" stroke-width="1.0"/><line x1="211.21" y1="22.4" x2="211.21" y2="25.0" stroke-width="1.0"/><line x1="216.31" y1="328.0" x2="216.31" y2="331.0" stroke-width="1.0"/><line x1="216.31" y1="22.4" x2="216.31" y2="25.0" stroke-width="1.0"/><line x1="221.40" y1="328.0" x2="221.40" y2="333.6" stroke-width="1.1"/><line x1="221.40" y1="22.4" x2="221.40" y2="27.4" stroke-width="1.1"/><line x1="226.49" y1="328.0" x2="226.49" y2="331.0" stroke-width="1.0"/><line x1="226.49" y1="22.4" x2="226.49" y2="25.0" stroke-width="1.0"/><line x1="231.59" y1="328.0" x2="231.59" y2="331.0" stroke-width="1.0"/><line x1="231.59" y1="22.4" x2="231.59" y2="25.0" stroke-width="1.0"/><line x1="236.68" y1="328.0" x2="236.68" y2="331.0" stroke-width="1.0"/><line x1="236.68" y1="22.4" x2="236.68" y2="25.0" stroke-width="1.0"/><line x1="241.77" y1="328.0" x2="241.77" y2="331.0" stroke-width="1.0"/><line x1="241.77" y1="22.4" x2="241.77" y2="25.0" stroke-width="1.0"/><line x1="246.87" y1="328.0" x2="246.87" y2="332.2" stroke-width="1.0"/><line x1="246.87" y1="22.4" x2="246.87" y2="26.0" stroke-width="1.0"/><line x1="251.96" y1="328.0" x2="251.96" y2="331.0" stroke-width="1.0"/><line x1="251.96" y1="22.4" x2="251.96" y2="25.0" stroke-width="1.0"/><line x1="257.05" y1="328.0" x2="257.05" y2="331.0" stroke-width="1.0"/><line x1="257.05" y1="22.4" x2="257.05" y2="25.0" stroke-width="1.0"/><line x1="262.15" y1="328.0" x2="262.15" y2="331.0" stroke-width="1.0"/><line x1="262.15" y1="22.4" x2="262.15" y2="25.0" stroke-width="1.0"/><line x1="267.24" y1="328.0" x2="267.24" y2="331.0" stroke-width="1.0"/><line x1="267.24" y1="22.4" x2="267.24" y2="25.0" stroke-width="1.0"/><line x1="272.33" y1="328.0" x2="272.33" y2="333.6" stroke-width="1.1"/><line x1="272.33" y1="22.4" x2="272.33" y2="27.4" stroke-width="1.1"/><line x1="277.43" y1="328.0" x2="277.43" y2="331.0" stroke-width="1.0"/><line x1="277.43" y1="22.4" x2="277.43" y2="25.0" stroke-width="1.0"/><line x1="282.52" y1="328.0" x2="282.52" y2="331.0" stroke-width="1.0"/><line x1="282.52" y1="22.4" x2="282.52" y2="25.0" stroke-width="1.0"/><line x1="287.61" y1="328.0" x2="287.61" y2="331.0" stroke-width="1.0"/><line x1="287.61" y1="22.4" x2="287.61" y2="25.0" stroke-width="1.0"/><line x1="292.71" y1="328.0" x2="292.71" y2="331.0" stroke-width="1.0"/><line x1="292.71" y1="22.4" x2="292.71" y2="25.0" stroke-width="1.0"/><line x1="297.80" y1="328.0" x2="297.80" y2="332.2" stroke-width="1.0"/><line x1="297.80" y1="22.4" x2="297.80" y2="26.0" stroke-width="1.0"/><line x1="302.89" y1="328.0" x2="302.89" y2="331.0" stroke-width="1.0"/><line x1="302.89" y1="22.4" x2="302.89" y2="25.0" stroke-width="1.0"/><line x1="307.99" y1="328.0" x2="307.99" y2="331.0" stroke-width="1.0"/><line x1="307.99" y1="22.4" x2="307.99" y2="25.0" stroke-width="1.0"/><line x1="313.08" y1="328.0" x2="313.08" y2="331.0" stroke-width="1.0"/><line x1="313.08" y1="22.4" x2="313.08" y2="25.0" stroke-width="1.0"/><line x1="318.17" y1="328.0" x2="318.17" y2="331.0" stroke-width="1.0"/><line x1="318.17" y1="22.4" x2="318.17" y2="25.0" stroke-width="1.0"/><line x1="323.27" y1="328.0" x2="323.27" y2="333.6" stroke-width="1.1"/><line x1="323.27" y1="22.4" x2="323.27" y2="27.4" stroke-width="1.1"/><line x1="328.36" y1="328.0" x2="328.36" y2="331.0" stroke-width="1.0"/><line x1="328.36" y1="22.4" x2="328.36" y2="25.0" stroke-width="1.0"/><line x1="333.45" y1="328.0" x2="333.45" y2="331.0" stroke-width="1.0"/><line x1="333.45" y1="22.4" x2="333.45" y2="25.0" stroke-width="1.0"/><line x1="338.55" y1="328.0" x2="338.55" y2="331.0" stroke-width="1.0"/><line x1="338.55" y1="22.4" x2="338.55" y2="25.0" stroke-width="1.0"/><line x1="343.64" y1="328.0" x2="343.64" y2="331.0" stroke-width="1.0"/><line x1="343.64" y1="22.4" x2="343.64" y2="25.0" stroke-width="1.0"/><line x1="348.73" y1="328.0" x2="348.73" y2="332.2" stroke-width="1.0"/><line x1="348.73" y1="22.4" x2="348.73" y2="26.0" stroke-width="1.0"/><line x1="353.83" y1="328.0" x2="353.83" y2="331.0" stroke-width="1.0"/><line x1="353.83" y1="22.4" x2="353.83" y2="25.0" stroke-width="1.0"/><line x1="358.92" y1="328.0" x2="358.92" y2="331.0" stroke-width="1.0"/><line x1="358.92" y1="22.4" x2="358.92" y2="25.0" stroke-width="1.0"/><line x1="364.01" y1="328.0" x2="364.01" y2="331.0" stroke-width="1.0"/><line x1="364.01" y1="22.4" x2="364.01" y2="25.0" stroke-width="1.0"/><line x1="369.11" y1="328.0" x2="369.11" y2="331.0" stroke-width="1.0"/><line x1="369.11" y1="22.4" x2="369.11" y2="25.0" stroke-width="1.0"/><line x1="374.20" y1="328.0" x2="374.20" y2="333.6" stroke-width="1.1"/><line x1="374.20" y1="22.4" x2="374.20" y2="27.4" stroke-width="1.1"/><line x1="63.6" y1="328.00" x2="70.4" y2="328.00" stroke-width="1.1"/><line x1="374.2" y1="328.00" x2="368.8" y2="328.00" stroke-width="1.1"/><line x1="65.8" y1="307.63" x2="68.6" y2="307.63" stroke-width="1.0"/><line x1="374.2" y1="307.63" x2="371.4" y2="307.63" stroke-width="1.0"/><line x1="65.8" y1="287.25" x2="68.6" y2="287.25" stroke-width="1.0"/><line x1="374.2" y1="287.25" x2="371.4" y2="287.25" stroke-width="1.0"/><line x1="65.8" y1="266.88" x2="68.6" y2="266.88" stroke-width="1.0"/><line x1="374.2" y1="266.88" x2="371.4" y2="266.88" stroke-width="1.0"/><line x1="65.8" y1="246.51" x2="68.6" y2="246.51" stroke-width="1.0"/><line x1="374.2" y1="246.51" x2="371.4" y2="246.51" stroke-width="1.0"/><line x1="63.6" y1="226.13" x2="70.4" y2="226.13" stroke-width="1.1"/><line x1="374.2" y1="226.13" x2="368.8" y2="226.13" stroke-width="1.1"/><line x1="65.8" y1="205.76" x2="68.6" y2="205.76" stroke-width="1.0"/><line x1="374.2" y1="205.76" x2="371.4" y2="205.76" stroke-width="1.0"/><line x1="65.8" y1="185.39" x2="68.6" y2="185.39" stroke-width="1.0"/><line x1="374.2" y1="185.39" x2="371.4" y2="185.39" stroke-width="1.0"/><line x1="65.8" y1="165.01" x2="68.6" y2="165.01" stroke-width="1.0"/><line x1="374.2" y1="165.01" x2="371.4" y2="165.01" stroke-width="1.0"/><line x1="65.8" y1="144.64" x2="68.6" y2="144.64" stroke-width="1.0"/><line x1="374.2" y1="144.64" x2="371.4" y2="144.64" stroke-width="1.0"/><line x1="63.6" y1="124.27" x2="70.4" y2="124.27" stroke-width="1.1"/><line x1="374.2" y1="124.27" x2="368.8" y2="124.27" stroke-width="1.1"/><line x1="65.8" y1="103.89" x2="68.6" y2="103.89" stroke-width="1.0"/><line x1="374.2" y1="103.89" x2="371.4" y2="103.89" stroke-width="1.0"/><line x1="65.8" y1="83.52" x2="68.6" y2="83.52" stroke-width="1.0"/><line x1="374.2" y1="83.52" x2="371.4" y2="83.52" stroke-width="1.0"/><line x1="65.8" y1="63.15" x2="68.6" y2="63.15" stroke-width="1.0"/><line x1="374.2" y1="63.15" x2="371.4" y2="63.15" stroke-width="1.0"/><line x1="65.8" y1="42.77" x2="68.6" y2="42.77" stroke-width="1.0"/><line x1="374.2" y1="42.77" x2="371.4" y2="42.77" stroke-width="1.0"/><line x1="63.6" y1="22.40" x2="70.4" y2="22.40" stroke-width="1.1"/><line x1="374.2" y1="22.40" x2="368.8" y2="22.40" stroke-width="1.1"/></g>
<rect x="68.6" y="22.4" width="305.6" height="305.6" fill="none" stroke="#1a1a1a" stroke-width="1.7"/>
<text x="170.3" y="14.7" font-family="Liberation Serif, serif" font-weight="bold" stroke-width="0.25" stroke-linejoin="round" font-size="16.5" fill="#1a1a1a" stroke="#1a1a1a">A<tspan dy="4.2" font-size="14.8">0</tspan><tspan dy="-4.2">/m</tspan><tspan dy="4.2" font-size="14.8">0</tspan><tspan dy="-4.2"> = 3.8, tan </tspan><tspan font-weight="normal">β</tspan> = 10, <tspan font-weight="normal">μ</tspan> &gt; 0</text><text x="63" y="26.1" font-family="Liberation Serif, serif" font-weight="bold" stroke-width="0.25" stroke-linejoin="round" font-size="11.9" fill="#1a1a1a" stroke="#1a1a1a" text-anchor="end">1.5×10<tspan dy="-4.6" dx="0.6" font-size="8.2">4</tspan></text><text x="63" y="128.1" font-family="Liberation Serif, serif" font-weight="bold" stroke-width="0.25" stroke-linejoin="round" font-size="11.9" fill="#1a1a1a" stroke="#1a1a1a" text-anchor="end">1.0×10<tspan dy="-4.6" dx="0.6" font-size="8.2">4</tspan></text><text x="61.6" y="332.5" font-family="Liberation Serif, serif" font-weight="bold" stroke-width="0.25" stroke-linejoin="round" font-size="12.2" fill="#1a1a1a" stroke="#1a1a1a" text-anchor="end">0</text><text x="68.2" y="347" font-family="Liberation Serif, serif" font-weight="bold" stroke-width="0.25" stroke-linejoin="round" font-size="12.0" fill="#1a1a1a" stroke="#1a1a1a" text-anchor="middle">0</text><text x="119.1" y="347" font-family="Liberation Serif, serif" font-weight="bold" stroke-width="0.25" stroke-linejoin="round" font-size="12.0" fill="#1a1a1a" stroke="#1a1a1a" text-anchor="middle">0.1</text><text x="170.1" y="347" font-family="Liberation Serif, serif" font-weight="bold" stroke-width="0.25" stroke-linejoin="round" font-size="12.0" fill="#1a1a1a" stroke="#1a1a1a" text-anchor="middle">0.2</text><text x="221.0" y="347" font-family="Liberation Serif, serif" font-weight="bold" stroke-width="0.25" stroke-linejoin="round" font-size="12.0" fill="#1a1a1a" stroke="#1a1a1a" text-anchor="middle">0.3</text><text x="271.9" y="347" font-family="Liberation Serif, serif" font-weight="bold" stroke-width="0.25" stroke-linejoin="round" font-size="12.0" fill="#1a1a1a" stroke="#1a1a1a" text-anchor="middle">0.4</text><text x="322.9" y="347" font-family="Liberation Serif, serif" font-weight="bold" stroke-width="0.25" stroke-linejoin="round" font-size="12.0" fill="#1a1a1a" stroke="#1a1a1a" text-anchor="middle">0.5</text><text x="373.8" y="347" font-family="Liberation Serif, serif" font-weight="bold" stroke-width="0.25" stroke-linejoin="round" font-size="12.0" fill="#1a1a1a" stroke="#1a1a1a" text-anchor="middle">0.6</text><text x="215.6" y="367" font-family="Liberation Serif, serif" font-size="19.4" fill="#1a1a1a" stroke="#1a1a1a" stroke-width="0.12">λ<tspan dy="4.5" font-size="14">4</tspan><tspan dy="-4.5">=λ</tspan><tspan dy="4.5" font-size="14">5</tspan></text><text transform="translate(13.1,136.4) rotate(-90)" font-family="Liberation Serif, serif" font-weight="bold" stroke-width="0.25" stroke-linejoin="round" font-size="17.4" letter-spacing="0.7" fill="#1a1a1a" stroke="#1a1a1a" text-anchor="middle">m<tspan dy="3.8" font-size="15">0</tspan><tspan dy="-3.8"> (GeV)</tspan></text><text x="74.6" y="46.2" font-family="Liberation Serif, serif" font-weight="bold" stroke-width="0.25" stroke-linejoin="round" font-size="16.1" fill="#303030" stroke="#303030">M<tspan dy="4" font-size="14">in</tspan><tspan dy="-4"> = 10</tspan><tspan dy="-6" font-size="14">16.5</tspan><tspan dy="6"> GeV</tspan></text><text x="74.6" y="68.6" font-family="Liberation Serif, serif" font-weight="bold" stroke-width="0.25" stroke-linejoin="round" font-size="16.1" fill="#303030" stroke="#303030">m<tspan dy="4" font-size="14">1/2</tspan><tspan dy="-4"> = 7 TeV</tspan></text><text x="78.6" y="91" font-family="Liberation Serif, serif" font-weight="bold" stroke-width="0.25" stroke-linejoin="round" font-size="14.2" fill="#303030"><tspan font-weight="normal">λ</tspan> = (0.5,0.5)</text><text x="319.3" y="104.8" font-family="Liberation Serif, serif" font-weight="bold" stroke-width="0.25" stroke-linejoin="round" font-size="10.9" fill="#ed1c24" text-anchor="middle">125</text><text x="293.2" y="134.4" font-family="Liberation Serif, serif" font-weight="bold" stroke-width="0.25" stroke-linejoin="round" font-size="10.9" fill="#ed1c24" text-anchor="middle">126</text><text x="303.2" y="163.6" font-family="Liberation Serif, serif" font-weight="bold" stroke-width="0.25" stroke-linejoin="round" font-size="10.9" fill="#ed1c24" text-anchor="middle">127</text><text x="303.2" y="234.9" font-family="Liberation Serif, serif" font-weight="bold" stroke-width="0.25" stroke-linejoin="round" font-size="10.9" fill="#ed1c24" text-anchor="middle">127</text><text x="327.0" y="280.9" font-family="Liberation Serif, serif" font-weight="bold" stroke-width="0.25" stroke-linejoin="round" font-size="10.9" fill="#ed1c24" text-anchor="middle">126</text><text transform="translate(112.8,172.8) rotate(-3)" y="2.75" font-family="Liberation Serif, serif" font-size="8.2" fill="#2a2a2a" text-anchor="middle" stroke="#fff" stroke-width="1.8" paint-order="stroke">100</text><text transform="translate(138.3,173.2) rotate(-8)" y="2.75" font-family="Liberation Serif, serif" font-size="8.2" fill="#2a2a2a" text-anchor="middle" stroke="#fff" stroke-width="1.8" paint-order="stroke">200</text><text transform="translate(276.0,208.9) rotate(0)" y="2.75" font-family="Liberation Serif, serif" font-size="8.2" fill="#2a2a2a" text-anchor="middle" stroke="#fff" stroke-width="1.8" paint-order="stroke">200</text><text transform="translate(251.3,256.2) rotate(0)" y="2.75" font-family="Liberation Serif, serif" font-size="8.2" fill="#2a2a2a" text-anchor="middle" stroke="#fff" stroke-width="1.8" paint-order="stroke">100</text><text transform="translate(224.0,284.6) rotate(0)" y="2.75" font-family="Liberation Serif, serif" font-size="8.2" fill="#2a2a2a" text-anchor="middle" stroke="#fff" stroke-width="1.8" paint-order="stroke">10</text><text transform="translate(85.9,218.5) rotate(-88)" y="2.1" font-family="Liberation Serif, serif" font-size="6.3" fill="#2a2a2a" text-anchor="middle">500</text><text transform="translate(106.5,221.3) rotate(-86)" y="2.1" font-family="Liberation Serif, serif" font-size="6.3" fill="#2a2a2a" text-anchor="middle">100</text><text transform="translate(121.3,228.2) rotate(-80)" y="2.1" font-family="Liberation Serif, serif" font-size="6.3" fill="#2a2a2a" text-anchor="middle">50</text><text transform="translate(150.3,233.6) rotate(-75)" y="2.1" font-family="Liberation Serif, serif" font-size="6.3" fill="#2a2a2a" text-anchor="middle">20</text><text transform="translate(187.3,226.5) rotate(-68)" y="2.1" font-family="Liberation Serif, serif" font-size="6.3" fill="#2a2a2a" text-anchor="middle">10</text><text transform="translate(233.5,234.4) rotate(-60)" y="2.1" font-family="Liberation Serif, serif" font-size="6.3" fill="#2a2a2a" text-anchor="middle">5</text><text transform="translate(339.4,219.3) rotate(-55)" y="2.1" font-family="Liberation Serif, serif" font-size="6.3" fill="#2a2a2a" text-anchor="middle">5</text><text transform="translate(353.6,72.8) rotate(90)" y="2.1" font-family="Liberation Serif, serif" font-size="6.3" fill="#2a2a2a" text-anchor="middle">500</text><text transform="translate(260.4,127.6) rotate(-60)" y="2.1" font-family="Liberation Serif, serif" font-size="6.3" fill="#2a2a2a" text-anchor="middle">10</text>
</svg>
</body></html>
